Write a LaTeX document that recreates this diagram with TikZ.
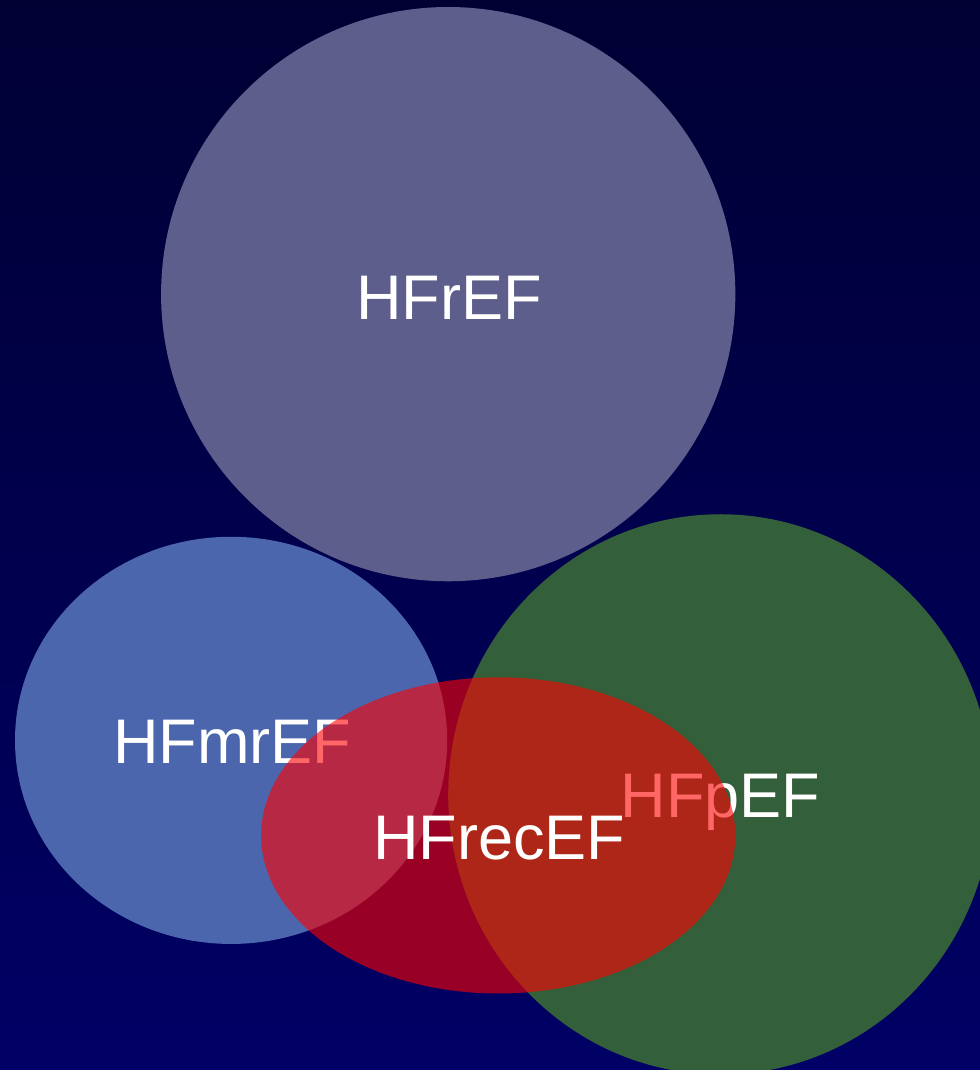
\documentclass[tikz,border=0pt]{standalone}
\usepackage{fontspec}
\setmainfont{Liberation Sans}
\definecolor{bgtop}{RGB}{0,0,51}
\definecolor{bgbot}{RGB}{0,0,102}
\definecolor{cref}{RGB}{93,94,139}
\definecolor{cmr}{RGB}{76,102,174}
\definecolor{cp}{RGB}{51,96,58}
\tikzset{
  lbl/.style={anchor=base, text=white, inner sep=0pt, font=\fontsize{63}{75}\selectfont},
}
\begin{document}
\begin{tikzpicture}[x=1pt,y=-1pt]
\shade[top color=bgtop, bottom color=bgbot] (-4,-4) rectangle (986,1074);
% HFrEF
\fill[cref] (448,294) circle [radius=287];
\node[lbl] (rEF) at (449,319) {HFrEF};
% HFmrEF
\fill[cmr] (231,740) ellipse [x radius=216, y radius=203.5];
\node[lbl] (mrEF) at (232,763) {HFmrEF};
% HFpEF
\fill[cp] (720,794) ellipse [x radius=272, y radius=280];
\node[lbl] (pEF) at (720,817) {HFpEF};
% HFrecEF overlay
\fill[red, fill opacity=0.6] (498,835) ellipse [x radius=237, y radius=158];
\node[lbl] (recEF) at (499,859) {HFrecEF};
\pgfresetboundingbox
\useasboundingbox (0,0) rectangle (979.5,1069.5);
\end{tikzpicture}
\end{document}
